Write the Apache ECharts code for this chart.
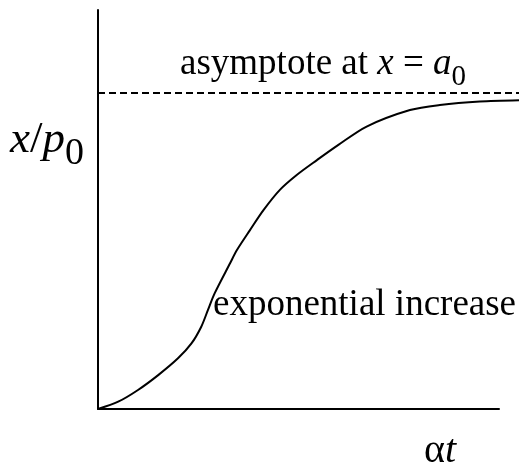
<!DOCTYPE html>
<html>
<head>
<meta charset="utf-8">
<script src="https://cdn.jsdelivr.net/npm/echarts@6/dist/echarts.min.js"></script>
<style>
  html, body { margin: 0; padding: 0; background: #ffffff; }
  #chart { width: 519px; height: 468px; }
</style>
</head>
<body>
<div id="chart"></div>
<script>
// Sigmoid growth of x/p0 against αt, approaching the asymptote x = a0
const tValues = [0, 0.48, 0.95, 1.43, 1.90, 2.22, 2.45, 2.61, 2.77, 3.14, 3.30, 3.61, 3.93, 4.32, 4.72, 5.20, 5.71, 6.38, 7.41, 8.12, 9.07, 10];
const xValues = [0, 0.023, 0.060, 0.107, 0.160, 0.207, 0.259, 0.312, 0.365, 0.461, 0.502, 0.565, 0.628, 0.692, 0.739, 0.786, 0.834, 0.892, 0.944, 0.960, 0.971, 0.975];
const asymptote = 1;
const tMax = 10;
const yMax = 1.26;

const FONT = "'Liberation Serif', 'Times New Roman', serif";

const chart = echarts.init(document.getElementById('chart'), null, { renderer: 'canvas' });

// text measuring for placing the inline pieces of the labels
const ctx = document.createElement('canvas').getContext('2d');
function fontStr(size, italic) {
  return (italic ? 'italic ' : '') + size + 'px ' + FONT;
}
function measure(text, size, italic) {
  ctx.font = fontStr(size, italic);
  return ctx.measureText(text).width;
}
// a run of text pieces laid out left to right on a baseline
function textRun(x0, baseline, pieces) {
  const out = [];
  let x = x0;
  pieces.forEach(p => {
    const dy = p.dy || 0;
    out.push({
      type: 'text',
      x: x,
      y: baseline + dy - 0.34 * p.size,
      silent: true,
      style: {
        text: p.text,
        font: fontStr(p.size, p.italic),
        fill: '#000',
        align: 'left',
        verticalAlign: 'middle'
      }
    });
    x += measure(p.text, p.size, p.italic);
  });
  return out;
}

const seriesData = tValues.map((t, i) => [t, xValues[i]]);

const graphics = [].concat(
  textRun(180, 77, [
    { text: 'asymptote at ', size: 37 },
    { text: 'x', size: 37, italic: true },
    { text: ' = ', size: 37 },
    { text: 'a', size: 37, italic: true },
    { text: '0', size: 29, dy: 10 }
  ]),
  textRun(213, 318, [
    { text: 'exponential increase', size: 37 }
  ]),
  textRun(10, 155, [
    { text: 'x', size: 45, italic: true },
    { text: '/', size: 45 },
    { text: 'p', size: 45, italic: true },
    { text: '0', size: 38, dy: 12 }
  ]),
  textRun(424, 465, [
    { text: 'α', size: 40 },
    { text: 't', size: 40, italic: true }
  ])
);

const option = {
  backgroundColor: '#ffffff',
  animation: false,
  grid: [
    { left: 98, right: 0, top: 10, bottom: 59 },
    { left: 98, right: 20, top: 10, bottom: 59 }
  ],
  xAxis: [
    {
      gridIndex: 0, type: 'value', min: 0, max: tMax,
      axisLine: { show: false }, axisTick: { show: false },
      axisLabel: { show: false }, splitLine: { show: false }
    },
    {
      gridIndex: 1, type: 'value', min: 0, max: 1,
      axisLine: { show: true, onZero: false, lineStyle: { color: '#000', width: 2 } },
      axisTick: { show: false }, axisLabel: { show: false }, splitLine: { show: false }
    }
  ],
  yAxis: [
    {
      gridIndex: 0, type: 'value', min: 0, max: yMax,
      axisLine: { show: true, onZero: false, lineStyle: { color: '#000', width: 2 } },
      axisTick: { show: false }, axisLabel: { show: false }, splitLine: { show: false }
    },
    {
      gridIndex: 1, type: 'value', min: 0, max: 1, show: false
    }
  ],
  series: [
    {
      type: 'line',
      xAxisIndex: 0, yAxisIndex: 0,
      data: seriesData,
      smooth: 0.3,
      showSymbol: false,
      silent: true,
      lineStyle: { color: '#000', width: 2 },
      markLine: {
        silent: true,
        symbol: 'none',
        label: { show: false },
        lineStyle: { color: '#000', width: 2, type: [7, 4] },
        data: [{ yAxis: asymptote }]
      }
    }
  ],
  graphic: graphics
};

chart.setOption(option);
</script>
</body>
</html>
